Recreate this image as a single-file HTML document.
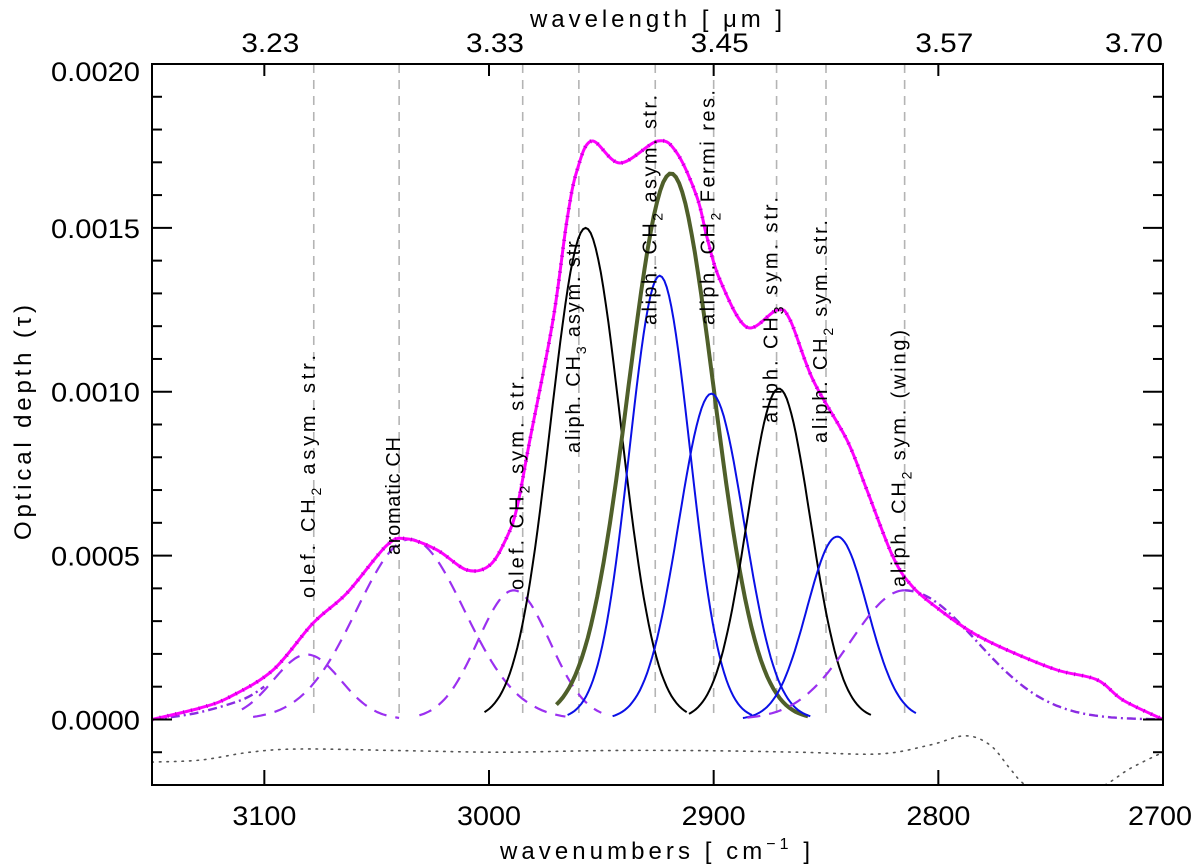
<!DOCTYPE html>
<html><head><meta charset="utf-8">
<style>
html,body{margin:0;padding:0;background:#fff;}
svg{display:block;font-family:"Liberation Sans",sans-serif;}
</style></head>
<body>
<svg id="chart" width="1200" height="868" viewBox="0 0 1200 868" xmlns="http://www.w3.org/2000/svg">
<defs><clipPath id="plotclip"><rect x="152" y="64" width="1011" height="721"/></clipPath></defs>
<g id="grid"></g>
<g id="marks" clip-path="url(#plotclip)"></g>
<g id="labels"></g>
<g id="axes"></g>
</svg>
<script>
// ---- data ----
const obsWn = [3150,3128.6,3115.3,3096.1,3078.3,3063.2,3045.4,3036.5,3023.1,3009.8,2999.6,2992.0,2987.5,2981.8,2971.5,2965.3,2960.8,2954.2,2941.7,2924.8,2916.3,2907.4,2903.0,2897.2,2885.2,2871.8,2866.0,2855.8,2840.7,2831.8,2820.2,2811.3,2799.3,2784.6,2769.4,2747.2,2729.4,2717.8,2700];
const obsTau = [0.0,0.000035,0.000069,0.000151,0.000294,0.000386,0.000532,0.000551,0.000517,0.000456,0.000471,0.000557,0.000648,0.000853,0.001219,0.001524,0.001676,0.001765,0.001698,0.001765,0.001728,0.001594,0.001472,0.001341,0.001197,0.001249,0.001219,0.001036,0.000853,0.000700,0.000496,0.000404,0.000334,0.000264,0.000212,0.000151,0.000121,0.000059,0.0];
const resWn = [3150,3128.6,3106.4,3084.1,3039.6,2995.1,2950.6,2906.1,2861.6,2826,2803.7,2788.1,2777.0,2768.1,2761.4,2745.9,2725.8,2714.7,2700];
const resTau = [-0.00013,-0.000124,-0.0001,-0.00009,-0.000095,-0.0001,-0.000095,-0.000095,-0.0001,-0.000105,-0.000078,-0.00005,-0.000078,-0.00015,-0.0002,-0.00027,-0.0002,-0.00015,-0.0001];
const leftWingWn = [3150,3130,3110,3100];
const leftWingTau = [0.0,0.00002,0.00006,0.0001];
// gaussian components: centre (cm-1), amplitude, sigma, range
const gNames = ["olef-ch2-asym","aromatic-ch","olef-ch2-sym","aliph-ch3-asym","aliph-ch2-asym-total","aliph-ch2-asym","aliph-ch2-fermi","aliph-ch3-sym","aliph-ch2-sym","aliph-ch2-sym-wing"];
const gCenter = [3081,3035,2989,2957,2919,2924,2901,2871,2845,2815];
const gAmp = [0.000198,0.00055,0.000394,0.0015,0.001666,0.001354,0.000994,0.00101,0.000558,0.000394];
const gSigma = [15,24,16,15.5,19,13.5,14.5,14,13.5,24];
const gLo = [3040,2966,2950,2912,2858,2883,2857,2830,2810,2815];
const gHi = [3110,3105,3031,3002,2970,2965,2945,2911,2887,2885];
const gStyle = ["dash","dash","dash","black","green","blue","blue","black","blue","dash"];
const wingRightSigma = 32;
const markerWn = [3078,3040,2985,2960,2926,2900,2872,2850,2815];
const bandLabels = [["olef. CH","2"," asym. str."],["aromatic CH","",""],["olef. CH","2"," sym. str."],["aliph. CH","3"," asym. str."],["aliph. CH","2"," asym. str."],["aliph. CH","2"," Fermi res."],["aliph. CH","3"," sym. str."],["aliph. CH","2"," sym. str."],["aliph. CH","2"," sym. (wing)"]];
const labelBottom = [598,555,590,453,325,325,423,443,587];
const labelLen = [243,118,215,218,230,235,226,223,257];
const xTicks = [3100,3000,2900,2800,2700];
const topTickLabels = ["3.23","3.33","3.45","3.57","3.70"];
const yTicks = [0.0,0.0005,0.0010,0.0015,0.0020];
const yTickLabels = ["0.0000","0.0005","0.0010","0.0015","0.0020"];

// ---- scales ----
const X0=152, X1=1163, Y0=785, Y1=64;
const WN_L=3150, WN_R=2700, T_MIN=-0.0002, T_MAX=0.0020;
function X(wn){return X0+(WN_L-wn)/(WN_L-WN_R)*(X1-X0);}
function Y(t){return Y0-(t-T_MIN)/(T_MAX-T_MIN)*(Y0-Y1);}
const NS="http://www.w3.org/2000/svg";
function el(tag,attrs,parent){const e=document.createElementNS(NS,tag);for(const k in attrs)e.setAttribute(k,attrs[k]);parent.appendChild(e);return e;}
function linePath(ws,ts){return ws.map((w,i)=>(i?"L":"M")+X(w).toFixed(1)+","+Y(ts[i]).toFixed(1)).join(" ");}
function smoothPath(ws,ts){
  const p=ws.map((w,i)=>[X(w),Y(ts[i])]);
  let d="M"+p[0][0].toFixed(1)+","+p[0][1].toFixed(1);
  for(let i=0;i<p.length-1;i++){
    const p0=p[Math.max(0,i-1)],p1=p[i],p2=p[i+1],p3=p[Math.min(p.length-1,i+2)];
    const c1=[p1[0]+(p2[0]-p0[0])/6,p1[1]+(p2[1]-p0[1])/6];
    const c2=[p2[0]-(p3[0]-p1[0])/6,p2[1]-(p3[1]-p1[1])/6];
    d+=` C${c1[0].toFixed(1)},${c1[1].toFixed(1)} ${c2[0].toFixed(1)},${c2[1].toFixed(1)} ${p2[0].toFixed(1)},${p2[1].toFixed(1)}`;
  }
  return d;
}
function gaussPath(c,a,s,lo,hi){const ws=[],ts=[];const n=80;for(let i=0;i<=n;i++){const w=hi-(hi-lo)*i/n;ws.push(w);ts.push(a*Math.exp(-0.5*((w-c)/s)**2));}return linePath(ws,ts);}

const grid=document.getElementById('grid'), marks=document.getElementById('marks'), labels=document.getElementById('labels'), axes=document.getElementById('axes');

// marker lines
markerWn.forEach((w,i)=>{
  const l=el('line',{x1:X(w),x2:X(w),y1:Y1,y2:Y(0),stroke:'#b4b4b4','stroke-width':1.6,'stroke-dasharray':'9 7'},grid);
  
  
});

// residual
const res=el('path',{d:smoothPath(resWn,resTau),fill:'none',stroke:'#555','stroke-width':1.6,'stroke-dasharray':'1.5 6','stroke-linecap':'round'},marks);



// gaussians
const styles={dash:{stroke:'#9b30f0','stroke-width':2.2,'stroke-dasharray':'13 9'},black:{stroke:'#000','stroke-width':2},green:{stroke:'#4f5f2a','stroke-width':4},blue:{stroke:'#0a10e6','stroke-width':2}};
gNames.forEach((n,i)=>{
  const st=styles[gStyle[i]];
  const p=el('path',Object.assign({d:gaussPath(gCenter[i],gAmp[i],gSigma[i],gLo[i],gHi[i]),fill:'none'},st),marks);
  
  
});
// wing right side (dash-dot)
const wr=el('path',{d:gaussPath(gCenter[9],gAmp[9],wingRightSigma,WN_R,gCenter[9]),fill:'none',stroke:'#8a2be2','stroke-width':2.4,'stroke-dasharray':'9 4 2 4'},marks);


const lw=el('path',{d:smoothPath(leftWingWn,leftWingTau),fill:'none',stroke:'#8a2be2','stroke-width':2.4,'stroke-dasharray':'9 4 2 4'},marks);



// observed + fit
const obs=el('path',{d:smoothPath(obsWn,obsTau),fill:'none',stroke:'#ff00ff','stroke-width':3,'stroke-linejoin':'round'},marks);


const fit=el('path',{d:smoothPath(obsWn,obsTau),fill:'none',stroke:'#c000d0','stroke-width':4,'stroke-dasharray':'1 7'},marks);



// band labels
markerWn.forEach((w,i)=>{
  const x=X(w)+1, y=labelBottom[i];
  const t=el('text',{x:x,y:y,transform:`rotate(-90 ${x} ${y})`,'font-size':20,fill:'#000',textLength:labelLen[i],lengthAdjust:'spacing'},labels);
  
  
  const b=bandLabels[i];
  el('tspan',{},t).textContent=b[0];
  if(b[1]){const s=el('tspan',{'font-size':14,dy:6},t);s.textContent=b[1];const r=el('tspan',{dy:-6},t);r.textContent=b[2];}
});

// axes frame
const fr=el('rect',{x:X0,y:Y1,width:X1-X0,height:Y0-Y1,fill:'none',stroke:'#000','stroke-width':2},axes);


// x ticks
xTicks.forEach((w,i)=>{
  const x=X(w);
  el('line',{x1:x,x2:x,y1:Y0,y2:Y0-15,stroke:'#000','stroke-width':2},axes);
  el('line',{x1:x,x2:x,y1:Y1,y2:Y1+12,stroke:'#000','stroke-width':2},axes);
  const bt=el('text',{x:i===xTicks.length-1?x-3:x,y:825,'text-anchor':'middle','font-size':27,textLength:64,lengthAdjust:'spacingAndGlyphs'},axes);
  
  
  bt.textContent=String(w);
  const tt=el('text',{x:i===xTicks.length-1?X1:x+6,y:52,'text-anchor':i===xTicks.length-1?'end':'middle','font-size':27,textLength:58,lengthAdjust:'spacingAndGlyphs'},axes);
  
  
  tt.textContent=topTickLabels[i];
});
// y ticks
for(let k=-2;k<=20;k++){
  const v=k*0.0001, y=Y(v), major=(k%5===0);
  el('line',{x1:X0,x2:X0+(major?20:10),y1:y,y2:y,stroke:'#000','stroke-width':2},axes);
  el('line',{x1:X1,x2:X1-(major?20:10),y1:y,y2:y,stroke:'#000','stroke-width':2},axes);
}
yTicks.forEach((v,i)=>{
  const y=Y(v)+(v>=0.002?17:10);
  const t=el('text',{x:140,y:y,'text-anchor':'end','font-size':27,textLength:89,lengthAdjust:'spacingAndGlyphs'},axes);
  
  
  t.textContent=yTickLabels[i];
});
</script>
<svg style="position:absolute;left:0;top:0" width="1200" height="868">
<text x="530" y="27" font-size="24" textLength="252" lengthAdjust="spacing" font-family="Liberation Sans, sans-serif">wavelength [ μm ]</text>
<text x="500" y="859" font-size="24" textLength="310" lengthAdjust="spacing" font-family="Liberation Sans, sans-serif">wavenumbers [ cm<tspan font-size="16" dy="-10">−1</tspan><tspan dy="10"> ]</tspan></text>
<text x="31" y="540" transform="rotate(-90 31 540)" font-size="24" textLength="235" lengthAdjust="spacing" font-family="Liberation Sans, sans-serif">Optical depth (τ)</text>
</svg>
</body></html>
